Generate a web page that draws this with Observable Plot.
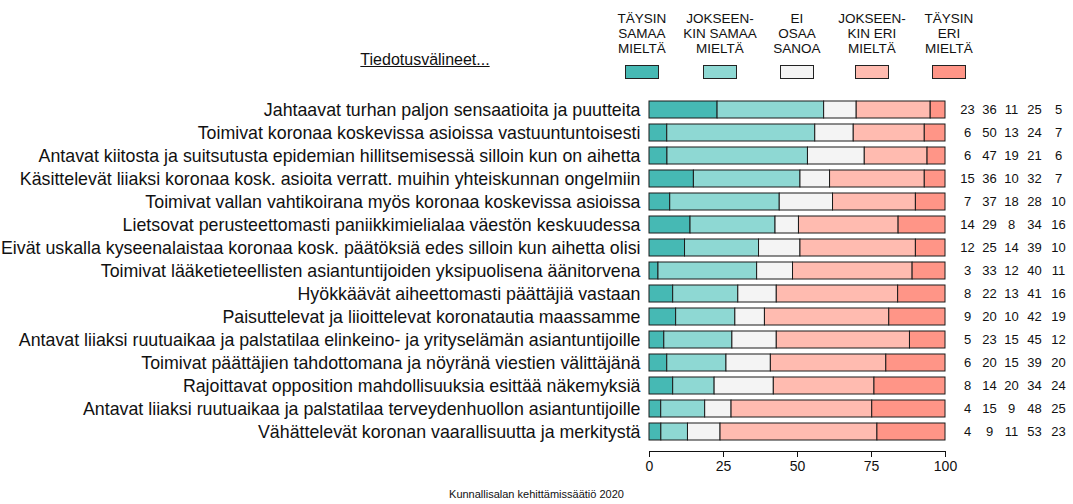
<!DOCTYPE html>
<html><head><meta charset="utf-8">
<script src="https://cdn.jsdelivr.net/npm/d3@7"></script>
<script src="https://cdn.jsdelivr.net/npm/@observablehq/plot@0.6"></script>
<style>
body{margin:0;background:#fff;font-family:"Liberation Sans",Arial,sans-serif;color:#111;}
#wrap{position:relative;width:1073px;height:504px;overflow:hidden;background:#fff;}
#chart{position:absolute;left:0;top:0;}
#heading{position:absolute;left:325px;width:200px;top:51px;text-align:center;font-size:16px;text-decoration:underline;}
.leg{position:absolute;top:11px;width:100px;text-align:center;font-size:13.5px;line-height:15px;}
.leg .sw{display:block;margin:9px auto 0;width:32px;height:12px;border:1px solid #222;}
#caption{position:absolute;left:0;width:1073px;top:488px;text-align:center;font-size:11px;}
</style></head><body>
<div id="wrap">
 <div id="chart"></div>
 <div id="heading">Tiedotusvälineet...</div>
 <div id="legend"></div>
 <div id="caption">Kunnallisalan kehittämissäätiö 2020</div>
</div>
<script>
const statements = [
 "Jahtaavat turhan paljon sensaatioita ja puutteita",
 "Toimivat koronaa koskevissa asioissa vastuuntuntoisesti",
 "Antavat kiitosta ja suitsutusta epidemian hillitsemisessä silloin kun on aihetta",
 "Käsittelevät liiaksi koronaa kosk. asioita verratt. muihin yhteiskunnan ongelmiin",
 "Toimivat vallan vahtikoirana myös koronaa koskevissa asioissa",
 "Lietsovat perusteettomasti paniikkimielialaa väestön keskuudessa",
 "Eivät uskalla kyseenalaistaa koronaa kosk. päätöksiä edes silloin kun aihetta olisi",
 "Toimivat lääketieteellisten asiantuntijoiden yksipuolisena äänitorvena",
 "Hyökkäävät aiheettomasti päättäjiä vastaan",
 "Paisuttelevat ja liioittelevat koronatautia maassamme",
 "Antavat liiaksi ruutuaikaa ja palstatilaa elinkeino- ja yrityselämän asiantuntijoille",
 "Toimivat päättäjien tahdottomana ja nöyränä viestien välittäjänä",
 "Rajoittavat opposition mahdollisuuksia esittää näkemyksiä",
 "Antavat liiaksi ruutuaikaa ja palstatilaa terveydenhuollon asiantuntijoille",
 "Vähättelevät koronan vaarallisuutta ja merkitystä"
];
const taysinSamaa     = [23, 6, 6,15, 7,14,12, 3, 8, 9, 5, 6, 8, 4, 4];
const jokseenkinSamaa = [36,50,47,36,37,29,25,33,22,20,23,20,14,15, 9];
const eiOsaaSanoa     = [11,13,19,10,18, 8,14,12,13,10,15,15,20, 9,11];
const jokseenkinEri   = [25,24,21,32,28,34,39,40,41,42,45,39,34,48,53];
const taysinEri       = [ 5, 7, 6, 7,10,16,10,11,16,19,12,20,24,25,23];
const answers = ["TÄYSIN SAMAA MIELTÄ","JOKSEENKIN SAMAA MIELTÄ","EI OSAA SANOA","JOKSEENKIN ERI MIELTÄ","TÄYSIN ERI MIELTÄ"];
const legendLines = [["TÄYSIN","SAMAA","MIELTÄ"],["JOKSEEN-","KIN SAMAA","MIELTÄ"],["EI","OSAA","SANOA"],["JOKSEEN-","KIN ERI","MIELTÄ"],["TÄYSIN","ERI","MIELTÄ"]];
const xTicks = [0, 25, 50, 75, 100];
const series = [taysinSamaa, jokseenkinSamaa, eiOsaaSanoa, jokseenkinEri, taysinEri];

const colors = ["#46b9b4","#8ed8d3","#f4f4f4","#ffbbb0","#ff9587"];
const numberDx = [22, 44, 66, 89, 113];
const legendCenters = [642, 720, 797, 872, 949];

const rows = statements.flatMap((s, i) => series.map((arr, j) => ({statement: s, answer: answers[j], value: arr[i]})));

const chart = Plot.plot({
  width: 1073, height: 480,
  marginLeft: 649, marginRight: 128, marginTop: 90, marginBottom: 29,
  style: {fontFamily: "'Liberation Sans', Arial, sans-serif", background: "transparent", color: "#111"},
  x: {domain: [0, 1], label: null},
  y: {domain: statements, padding: 0.24, label: null},
  color: {domain: answers, range: colors},
  marks: [
    Plot.barX(rows, Plot.stackX({x: "value", y: "statement", fill: "answer", offset: "normalize", stroke: "#1a1a1a", strokeWidth: 1})),
    Plot.axisY({tickSize: 0, tickPadding: 9, fontSize: 17.8, label: null}),
    Plot.axisX({ticks: xTicks.map(t => t / 100), tickFormat: d => String(Math.round(d * 100)), tickSize: 6, tickPadding: 4, fontSize: 14, label: null}),
    Plot.frame({anchor: "bottom"}),
    ...series.map((arr, j) => Plot.text(statements, {x: 1, y: d => d, text: (d, i) => arr[i], dx: numberDx[j], fontSize: 13}))
  ]
});
document.getElementById("chart").appendChild(chart);

const leg = document.getElementById("legend");
legendLines.forEach((lines, j) => {
  const d = document.createElement("div");
  d.className = "leg";
  d.style.left = (legendCenters[j] - 50) + "px";
  d.innerHTML = lines.join("<br>") + `<span class="sw" style="background:${colors[j]}"></span>`;
  leg.appendChild(d);
});
</script>
</body></html>
